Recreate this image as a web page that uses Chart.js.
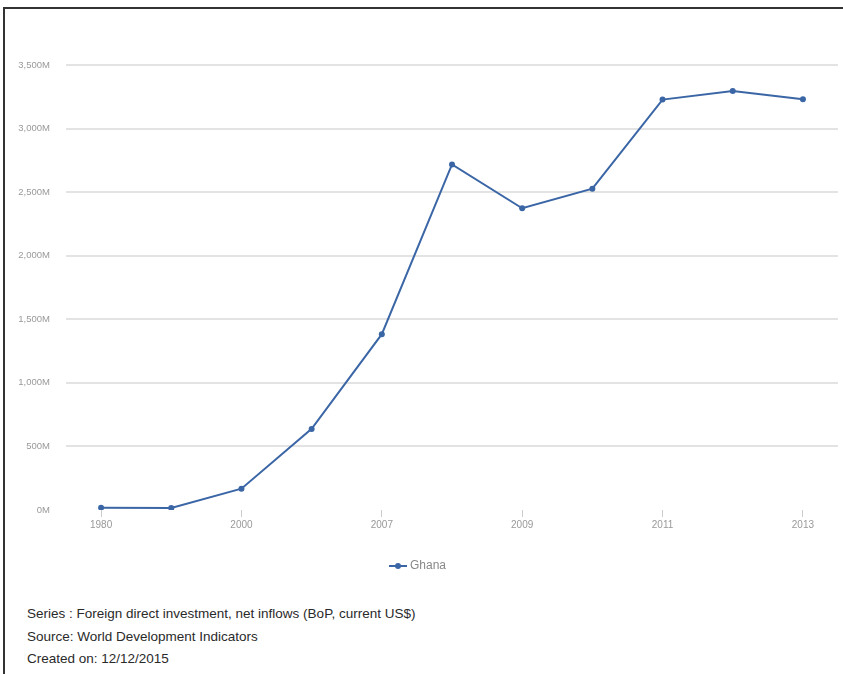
<!DOCTYPE html>
<html>
<head>
<meta charset="utf-8">
<script src="https://cdn.jsdelivr.net/npm/chart.js@4/dist/chart.umd.min.js"></script>
<style>
  html, body { margin: 0; padding: 0; background: #fff; }
  body { width: 843px; height: 674px; position: relative; overflow: hidden; font-family: "Liberation Sans", Arial, sans-serif; }
  .frame { position: absolute; left: 3px; top: 7px; width: 850px; height: 700px; border-left: 2px solid #333; border-top: 2px solid #333; }
  .wrap { position: absolute; left: 0; top: 0; width: 843px; height: 590px; }
  .notes { position: absolute; left: 27px; top: 603px; font-size: 13.5px; color: #2a2a2a; line-height: 22.5px; }
</style>
</head>
<body>
<div class="frame"></div>
<div class="wrap"><canvas id="fdiChart"></canvas></div>
<div class="notes">
  <div>Series : Foreign direct investment, net inflows (BoP, current US$)</div>
  <div>Source: World Development Indicators</div>
  <div>Created on: 12/12/2015</div>
</div>
<script>
// Ghana, FDI net inflows in millions of US$
const years = ['1980', '1990', '2000', '2006', '2007', '2008', '2009', '2010', '2011', '2012', '2013'];
const ghana = [18, 16, 168, 638, 1383, 2718, 2373, 2527, 3228, 3295, 3230];
const yTicks = [0, 500, 1000, 1500, 2000, 2500, 3000, 3500];

const lineBlue = '#3b66a6';

// little line-with-dot marker for the legend
function legendMarker() {
  const c = document.createElement('canvas');
  c.width = 18; c.height = 8;
  const g = c.getContext('2d');
  g.strokeStyle = lineBlue;
  g.lineWidth = 2;
  g.beginPath(); g.moveTo(0, 4); g.lineTo(18, 4); g.stroke();
  g.fillStyle = lineBlue;
  g.beginPath(); g.arc(9, 4, 3, 0, Math.PI * 2); g.fill();
  return c;
}

document.addEventListener('DOMContentLoaded', () => {
  const ctx = document.getElementById('fdiChart');
  const marker = legendMarker();

  new Chart(ctx, {
    type: 'line',
    data: {
      labels: years,
      datasets: [{
        label: 'Ghana',
        data: ghana,
        borderColor: lineBlue,
        backgroundColor: lineBlue,
        borderWidth: 2,
        pointRadius: 3,
        pointBackgroundColor: lineBlue,
        pointBorderWidth: 0,
        pointStyle: 'circle',
        tension: 0
      }]
    },
    options: {
      responsive: true,
      maintainAspectRatio: false,
      animation: false,
      layout: { padding: { top: 65, right: 5, left: 0, bottom: 8 } },
      plugins: {
        legend: {
          position: 'bottom',
          labels: {
            usePointStyle: true,
            pointStyle: marker,
            color: '#888',
            font: { family: 'Liberation Sans', size: 12 },
            padding: 10
          }
        },
        tooltip: { enabled: false }
      },
      scales: {
        x: {
          offset: true,
          border: { display: false },
          grid: {
            offset: false,
            drawOnChartArea: false,
            drawTicks: true,
            tickLength: 7,
            color: '#ccc'
          },
          ticks: {
            autoSkip: false,
            maxRotation: 0,
            color: '#999',
            font: { family: 'Liberation Sans', size: 10 },
            padding: 2,
            callback: function (val, i) { return i % 2 === 0 ? years[i] : null; }
          },
          afterFit: (axis) => { axis.height = 40; }
        },
        y: {
          min: 0,
          max: 3500,
          border: { display: false },
          afterBuildTicks: (axis) => { axis.ticks = yTicks.map(v => ({ value: v })); },
          grid: {
            drawTicks: false,
            lineWidth: 2,
            color: (c) => c.tick && c.tick.value === 0 ? 'rgba(0,0,0,0)' : '#e3e3e3'
          },
          ticks: {
            color: '#999',
            font: { family: 'Liberation Sans', size: 9.5 },
            padding: 16,
            callback: (v) => v.toLocaleString('en-US') + 'M'
          },
          afterFit: (axis) => { axis.width = 66; }
        }
      }
    }
  });
});
</script>
</body>
</html>
